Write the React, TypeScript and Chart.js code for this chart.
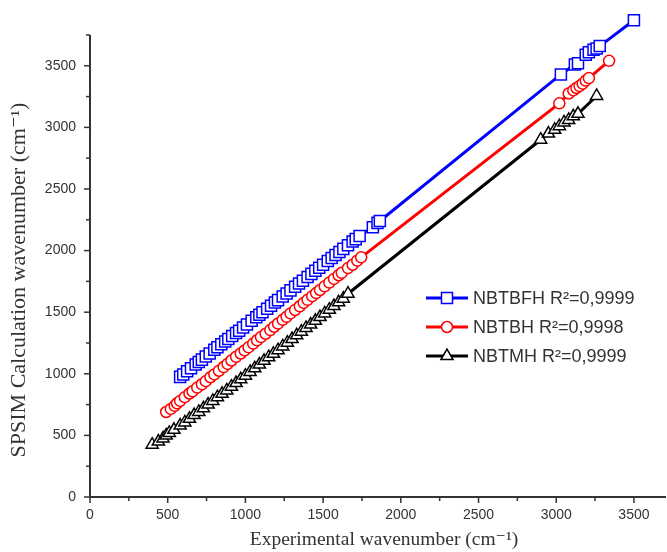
import React, { useEffect, useRef } from 'react';
import { Chart, registerables } from 'chart.js';

Chart.register(...registerables);

const X_MAX = 3700;
const Y_MAX = 3900;
const Y_AXIS_END = 3750;
const tickValues = [0, 500, 1000, 1500, 2000, 2500, 3000, 3500];
const xTickLabels = ['0', '500', '1000', '1500', '2000', '2500', '3000', '3500'];
const yTickLabels = ['0', '500', '1000', '1500', '2000', '2500', '3000', '3500'];

const xTitle = 'Experimental wavenumber (cm⁻¹)';
const yTitle = 'SPSIM Calculation wavenumber (cm⁻¹)';
const seriesNames = ['NBTBFH R²=0,9999', 'NBTBH R²=0,9998', 'NBTMH R²=0,9999'];

const nbtbfhX = [580, 600, 625, 650, 680, 700, 720, 745, 770, 800, 820, 845, 870, 890, 915, 940, 960, 985, 1010, 1040, 1070, 1090, 1110, 1140, 1165, 1190, 1210, 1240, 1265, 1290, 1320, 1345, 1370, 1400, 1425, 1450, 1475, 1500, 1530, 1555, 1580, 1605, 1630, 1660, 1690, 1710, 1735, 1820, 1850, 1865, 3030, 3120, 3140, 3190, 3210, 3240, 3260, 3280, 3500];
const nbtbfhY = [975, 995, 1020, 1045, 1075, 1095, 1115, 1140, 1165, 1195, 1215, 1240, 1262, 1282, 1306, 1331, 1350, 1375, 1400, 1430, 1459, 1479, 1499, 1528, 1553, 1578, 1598, 1628, 1652, 1677, 1707, 1732, 1756, 1786, 1811, 1836, 1860, 1885, 1915, 1940, 1964, 1989, 2014, 2043, 2073, 2093, 2118, 2190, 2225, 2240, 3430, 3510, 3520, 3590, 3610, 3630, 3640, 3660, 3870];

const nbtbhX = [490, 520, 545, 560, 580, 610, 640, 660, 690, 720, 745, 775, 800, 830, 860, 885, 910, 940, 970, 995, 1020, 1050, 1075, 1100, 1130, 1160, 1185, 1210, 1240, 1265, 1290, 1320, 1350, 1375, 1400, 1430, 1455, 1480, 1510, 1540, 1570, 1600, 1620, 1660, 1690, 1720, 1745, 3020, 3080, 3110, 3130, 3150, 3170, 3190, 3210, 3340];
const nbtbhY = [690, 715, 740, 760, 780, 810, 840, 858, 888, 915, 940, 972, 995, 1025, 1055, 1080, 1108, 1138, 1165, 1190, 1215, 1245, 1272, 1298, 1325, 1355, 1382, 1408, 1438, 1462, 1490, 1518, 1548, 1575, 1600, 1630, 1655, 1680, 1710, 1740, 1770, 1800, 1820, 1858, 1885, 1918, 1945, 3195, 3275, 3300, 3320, 3335, 3355, 3380, 3400, 3540];

const nbtmhX = [400, 440, 470, 490, 510, 540, 580, 610, 640, 670, 700, 730, 760, 790, 820, 850, 880, 910, 940, 970, 1000, 1030, 1060, 1090, 1120, 1150, 1180, 1210, 1240, 1270, 1300, 1330, 1360, 1390, 1420, 1450, 1480, 1510, 1540, 1570, 1600, 1630, 1660, 2900, 2950, 2990, 3020, 3050, 3080, 3110, 3140, 3260];
const nbtmhY = [425, 450, 475, 500, 520, 545, 580, 605, 635, 665, 690, 720, 750, 780, 810, 838, 865, 895, 925, 955, 985, 1015, 1045, 1075, 1105, 1135, 1162, 1192, 1222, 1252, 1282, 1312, 1342, 1372, 1400, 1430, 1460, 1490, 1520, 1550, 1580, 1610, 1650, 2900, 2950, 2980, 3010, 3040, 3060, 3090, 3110, 3255];

const colors = ['#0000ff', '#ff0000', '#000000'];
const shapes = ['rect', 'circle', 'triangle'];

function pts(xs: number[], ys: number[]) {
  return xs.map((x, i) => ({ x, y: ys[i] }));
}

function labelFor(labels: string[]) {
  return (v: any) => {
    const i = tickValues.indexOf(Math.round(Number(v)));
    return i >= 0 ? labels[i] : '';
  };
}

function drawMarker(ctx: CanvasRenderingContext2D, shape: string, cx: number, cy: number) {
  ctx.beginPath();
  if (shape === 'rect') {
    ctx.rect(cx - 5.5, cy - 5.5, 11, 11);
  } else if (shape === 'circle') {
    ctx.arc(cx, cy, 5.5, 0, Math.PI * 2);
  } else {
    const r = 7;
    ctx.moveTo(cx, cy - r);
    ctx.lineTo(cx + r * Math.cos(Math.PI / 6), cy + r * 0.5);
    ctx.lineTo(cx - r * Math.cos(Math.PI / 6), cy + r * 0.5);
    ctx.closePath();
  }
  ctx.fill();
  ctx.stroke();
}

const decorPlugin = {
  id: 'decor',
  afterDraw(chart: any) {
    const { ctx, chartArea } = chart;
    const xs = chart.scales.x;
    const ys = chart.scales.y;
    ctx.save();
    // y axis line (ends at Y_AXIS_END)
    ctx.strokeStyle = '#333';
    ctx.lineWidth = 2;
    ctx.beginPath();
    ctx.moveTo(chartArea.left, ys.getPixelForValue(0) + 1);
    ctx.lineTo(chartArea.left, ys.getPixelForValue(Y_AXIS_END));
    ctx.stroke();
    ctx.lineWidth = 1.5;
    for (let v = 0; v <= X_MAX; v += 250) {
      const px = xs.getPixelForValue(v);
      const len = v % 500 === 0 ? 6 : 4;
      ctx.beginPath();
      ctx.moveTo(px, chartArea.bottom);
      ctx.lineTo(px, chartArea.bottom + len);
      ctx.stroke();
    }
    for (let v = 0; v <= Y_AXIS_END; v += 250) {
      const py = ys.getPixelForValue(v);
      const len = v % 500 === 0 ? 6 : 4;
      ctx.beginPath();
      ctx.moveTo(chartArea.left, py);
      ctx.lineTo(chartArea.left - len, py);
      ctx.stroke();
    }
    ctx.fillStyle = '#333';
    ctx.textAlign = 'center';
    ctx.textBaseline = 'middle';
    // x axis title
    ctx.font = '19.5px "Liberation Serif", "DejaVu Serif", serif';
    ctx.fillText(xTitle, 384, 540);
    // y axis title
    ctx.save();
    ctx.translate(19, 280);
    ctx.rotate(-Math.PI / 2);
    ctx.font = '22px "Liberation Serif", "DejaVu Serif", serif';
    ctx.fillText(yTitle, 0, 0);
    ctx.restore();
    // legend
    const rows = [298, 327, 356];
    seriesNames.forEach((name, i) => {
      const y = rows[i];
      ctx.strokeStyle = colors[i];
      ctx.lineWidth = 3;
      ctx.beginPath();
      ctx.moveTo(426, y);
      ctx.lineTo(468, y);
      ctx.stroke();
      ctx.fillStyle = '#ffffff';
      ctx.lineWidth = 1.5;
      drawMarker(ctx, shapes[i], 447, y);
      ctx.fillStyle = '#333';
      ctx.font = '18px "Liberation Sans", Arial, sans-serif';
      ctx.textAlign = 'left';
      ctx.textBaseline = 'middle';
      ctx.fillText(name, 473, y + 1);
    });
    ctx.restore();
  },
};

export default function App() {
  const ref = useRef<HTMLCanvasElement | null>(null);
  useEffect(() => {
    if (!ref.current) return;
    const mk = (label: string, xs: number[], ys: number[], i: number, r: number) => ({
      label,
      data: pts(xs, ys),
      showLine: true,
      borderColor: colors[i],
      borderWidth: 3,
      pointStyle: shapes[i],
      pointRadius: r,
      pointBorderWidth: 1.5,
      pointBorderColor: colors[i],
      pointBackgroundColor: '#ffffff',
      clip: false,
    });
    const setTicks = (s: any) => {
      s.ticks = tickValues.map((value) => ({ value }));
    };
    const chart = new Chart(ref.current, {
      type: 'scatter',
      data: {
        datasets: [
          mk(seriesNames[0], nbtbfhX, nbtbfhY, 0, 7.8),
          mk(seriesNames[1], nbtbhX, nbtbhY, 1, 5.5),
          mk(seriesNames[2], nbtmhX, nbtmhY, 2, 7),
        ] as any,
      },
      options: {
        responsive: false,
        animation: false,
        layout: { autoPadding: false, padding: { left: 0, right: 2, top: 16.5, bottom: 0 } },
        plugins: { legend: { display: false }, tooltip: { enabled: false } },
        scales: {
          x: {
            type: 'linear',
            min: 0,
            max: X_MAX,
            afterFit: (s: any) => { s.height = 55; s.paddingLeft = 0; s.paddingRight = 0; },
            afterBuildTicks: setTicks,
            ticks: {
              autoSkip: false,
              maxRotation: 0,
              minRotation: 0,
              padding: 10,
              color: '#333',
              font: { family: '"Liberation Sans", Arial, sans-serif', size: 14 },
              callback: labelFor(xTickLabels),
            },
            grid: { display: false, drawTicks: false },
            border: { display: true, color: '#333', width: 2 },
          },
          y: {
            type: 'linear',
            min: 0,
            max: Y_MAX,
            afterFit: (s: any) => { s.width = 90; s.paddingTop = 0; s.paddingBottom = 0; },
            afterBuildTicks: setTicks,
            ticks: {
              autoSkip: false,
              padding: 14,
              color: '#333',
              font: { family: '"Liberation Sans", Arial, sans-serif', size: 14 },
              callback: labelFor(yTickLabels),
            },
            grid: { display: false, drawTicks: false },
            border: { display: false },
          },
        },
      } as any,
      plugins: [decorPlugin as any],
    });
    return () => chart.destroy();
  }, []);
  return (
    <div style={{ position: 'absolute', left: 0, top: 0, width: 667, height: 552, background: '#fff' }}>
      <canvas ref={ref} width={667} height={552} style={{ display: 'block' }} />
    </div>
  );
}
